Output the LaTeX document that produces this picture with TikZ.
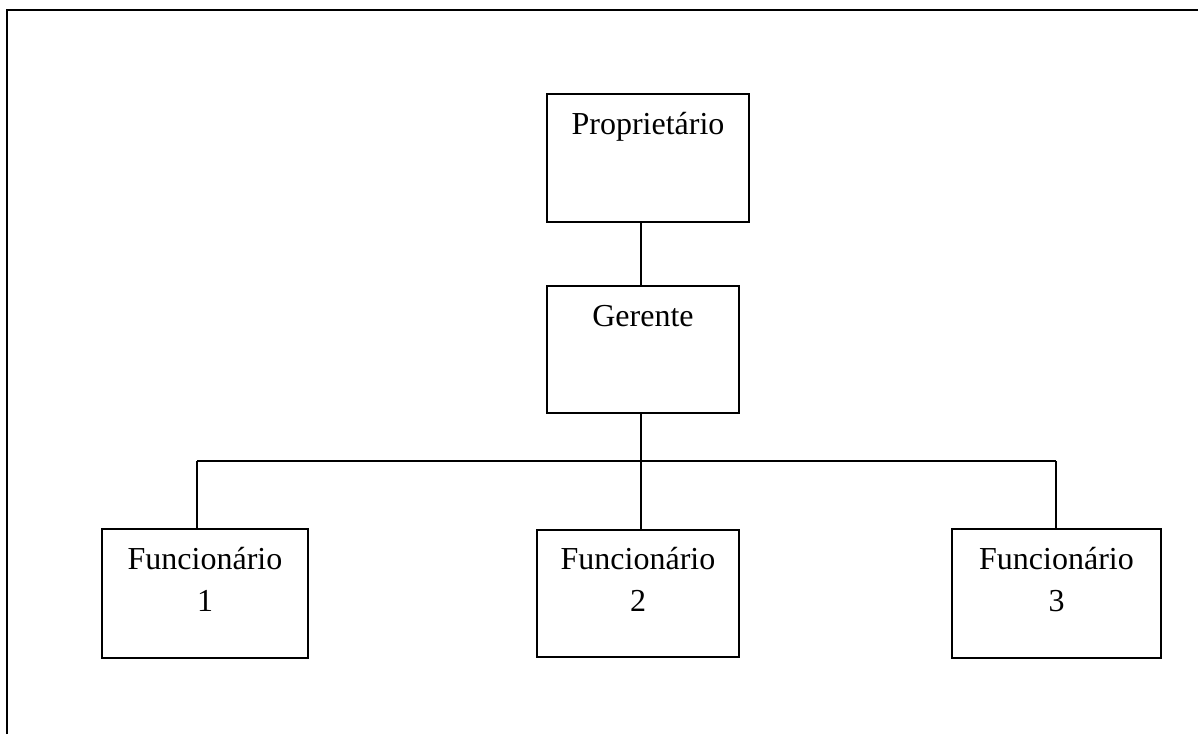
\documentclass[tikz,border=0pt]{standalone}
\usepackage{fontspec}
\setmainfont{Liberation Serif}
\begin{document}
\begin{tikzpicture}[x=1pt,y=-1pt,
  orgbox/.style={draw=black,line width=1.5pt,rectangle,inner sep=0pt},
  orglabel/.style={anchor=base,inner sep=0pt,align=center,
    font=\fontsize{32}{42}\selectfont},
  link/.style={draw=black,line width=1.5pt},
  frameline/.style={draw=black,line width=2pt}]
\useasboundingbox (0,0) rectangle (1198,734);
% page frame: top and left edges
\coordinate (fa) at (7,734);
\coordinate (fb) at (7,10);
\coordinate (fc) at (1198,10);
\draw[frameline] (fa) -- (fb) -- (fc);
% boxes
\node[orgbox,minimum width=202pt,minimum height=128pt] (prop) at (648,158) {};
\node[orgbox,minimum width=192pt,minimum height=127pt] (ger) at (643,349.5) {};
\node[orgbox,minimum width=206pt,minimum height=129pt] (f1) at (205,593.5) {};
\node[orgbox,minimum width=202pt,minimum height=127pt] (f2) at (638,593.5) {};
\node[orgbox,minimum width=209pt,minimum height=129pt] (f3) at (1056.5,593.5) {};
% labels (base anchor sits on the last line)
\node[orglabel] (tprop) at ([yshift=-41pt]prop.north) {Proprietário};
\node[orglabel] (tger) at ([yshift=-41pt]ger.north) {Gerente};
\node[orglabel] (tf1) at ([yshift=-83pt]f1.north) {Funcionário\\1};
\node[orglabel] (tf2) at ([yshift=-82pt]f2.north) {Funcionário\\2};
\node[orglabel] (tf3) at ([yshift=-83pt]f3.north) {Funcionário\\3};
% connectors
\coordinate (bus) at (641,461);
\coordinate (j1) at (197,461);
\coordinate (j3) at (1056,461);
\draw[link] (prop.south -| bus) -- (ger.north -| bus);
\draw[link] (ger.south -| bus) -- (f2.north -| bus);
\draw[link] (j1) -- (j3);
\draw[link] (j1) -- (f1.north -| j1);
\draw[link] (j3) -- (f3.north -| j3);
\end{tikzpicture}
\end{document}
